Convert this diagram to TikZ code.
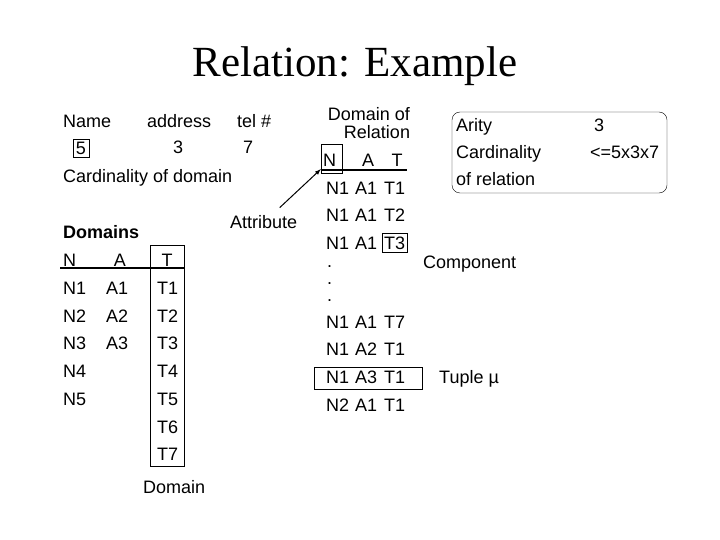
\documentclass[tikz,border=0pt]{standalone}
\usepackage{fontspec}
\setmainfont{Liberation Sans}
\newfontfamily\titlefont{Liberation Serif}
\usetikzlibrary{arrows,fit,positioning}

\begin{document}
\begin{tikzpicture}[x=1pt,y=-1pt]
\tikzstyle{txt}=[inner sep=0pt,anchor=base west,
font=\fontsize{18}{21}\selectfont]
\tikzstyle{ctxt}=[txt,anchor=base]
\tikzstyle{frame}=[draw=black,thin,inner sep=0pt]
\useasboundingbox (0,0) rectangle (720,540);

\node[anchor=base,inner sep=0pt,font=\titlefont\fontsize{43}{50}\selectfont] (title) at (355,77) {Relation: Example};

% attributes
\node[txt] at (63,128) (name) {Name};
\node[txt] at (147,128) (addr) {address};
\node[txt] at (237,128) (tel) {tel \#};
\node[frame,minimum width=16pt,minimum height=18pt,
font=\fontsize{18}{21}\selectfont] at (81,148) (c5) {5};
\node[txt] at (173,154) (c3) {3};
\node[txt] at (243,154) (c7) {7};
\node[txt] at (63,183) (card) {Cardinality of domain};
\node[txt] at (230,229) (attr) {Attribute};

% domains
\node[txt,font=\bfseries\fontsize{18}{21}\selectfont] at (63,239) (doms) {Domains};
\node[txt] at (63,266) (dn) {N};
\node[ctxt] at (120,266) (da) {A};
\node[ctxt] at (167,266) (dt) {T};
\draw[line width=1.5pt] (60,268) -- (185,268);
\node[txt] at (63,294) (dn1) {N1};
\node[txt] at (106,294) (da1) {A1};
\node[txt] at (157,294) (dt1) {T1};
\node[txt] at (63,322) (dn2) {N2};
\node[txt] at (106,322) (da2) {A2};
\node[txt] at (157,322) (dt2) {T2};
\node[txt] at (63,349) (dn3) {N3};
\node[txt] at (106,349) (da3) {A3};
\node[txt] at (157,349) (dt3) {T3};
\node[txt] at (63,377) (dn4) {N4};
\node[txt] at (157,377) (dt4) {T4};
\node[txt] at (63,405) (dn5) {N5};
\node[txt] at (157,405) (dt5) {T5};
\node[txt] at (157,433) (dt6) {T6};
\node[txt] at (157,460) (dt7) {T7};
\node[frame,minimum width=34pt,minimum height=221pt] at (167,355.5) (tcol) {};
\node[txt] at (143,493) (dom) {Domain};

% relation
\node[ctxt] at (369,121) (rtop) {Domain of};
\node[ctxt] at (377,139) (rbot) {Relation};
\node[txt] at (323,167) (rn) {N};
\node[ctxt] at (368,167) (ra) {A};
\node[ctxt] at (397,167) (rt) {T};
\draw[line width=1.5pt] (321,170) -- (407,170);
\node[frame,minimum width=21pt,minimum height=29pt] at (331.5,158.5) (nbox) {};
\path[->,>=latex,line width=1pt,shorten <=12pt] (attr) edge ([yshift=4pt]nbox.south west);

\node[txt] at (326,195) (r1n) {N1};
\node[txt] at (355,195) (r1a) {A1};
\node[txt] at (384,195) (r1t) {T1};
\node[txt] at (326,222) (r2n) {N1};
\node[txt] at (355,222) (r2a) {A1};
\node[txt] at (384,222) (r2t) {T2};
\node[txt] at (326,249) (r3n) {N1};
\node[txt] at (355,249) (r3a) {A1};
\node[txt] at (384,249) (r3t) {T3};
\node[frame,fit=(r3t),inner xsep=2pt,inner ysep=3pt] (t3box) {};
\node[txt] at (327,267) (dot1) {.};
\node[txt] at (327,284) (dot2) {.};
\node[txt] at (327,301) (dot3) {.};
\node[txt] at (423,268) (comp) {Component};
\node[txt] at (326,328) (r4n) {N1};
\node[txt] at (355,328) (r4a) {A1};
\node[txt] at (384,328) (r4t) {T7};
\node[txt] at (326,355) (r5n) {N1};
\node[txt] at (355,355) (r5a) {A2};
\node[txt] at (384,355) (r5t) {T1};
\node[txt] at (326,383) (r6n) {N1};
\node[txt] at (355,383) (r6a) {A3};
\node[txt] at (384,383) (r6t) {T1};
\node[frame,minimum width=108pt,minimum height=22pt] at (368,378) (tuple) {};
\node[txt] at (439,383) (tup) {Tuple µ};
\node[txt] at (326,411) (r7n) {N2};
\node[txt] at (355,411) (r7a) {A1};
\node[txt] at (384,411) (r7t) {T1};

% properties
\draw[rounded corners=8pt] (452,112) rectangle (667,193);
\node[txt] at (456,132) (arity) {Arity};
\node[txt] at (594,132) (ar3) {3};
\node[txt] at (456,159) (rcard) {Cardinality};
\node[txt] at (590,159) (rcv) {<=5x3x7};
\node[txt] at (456,186) (ofrel) {of relation};

\end{tikzpicture}
\end{document}
